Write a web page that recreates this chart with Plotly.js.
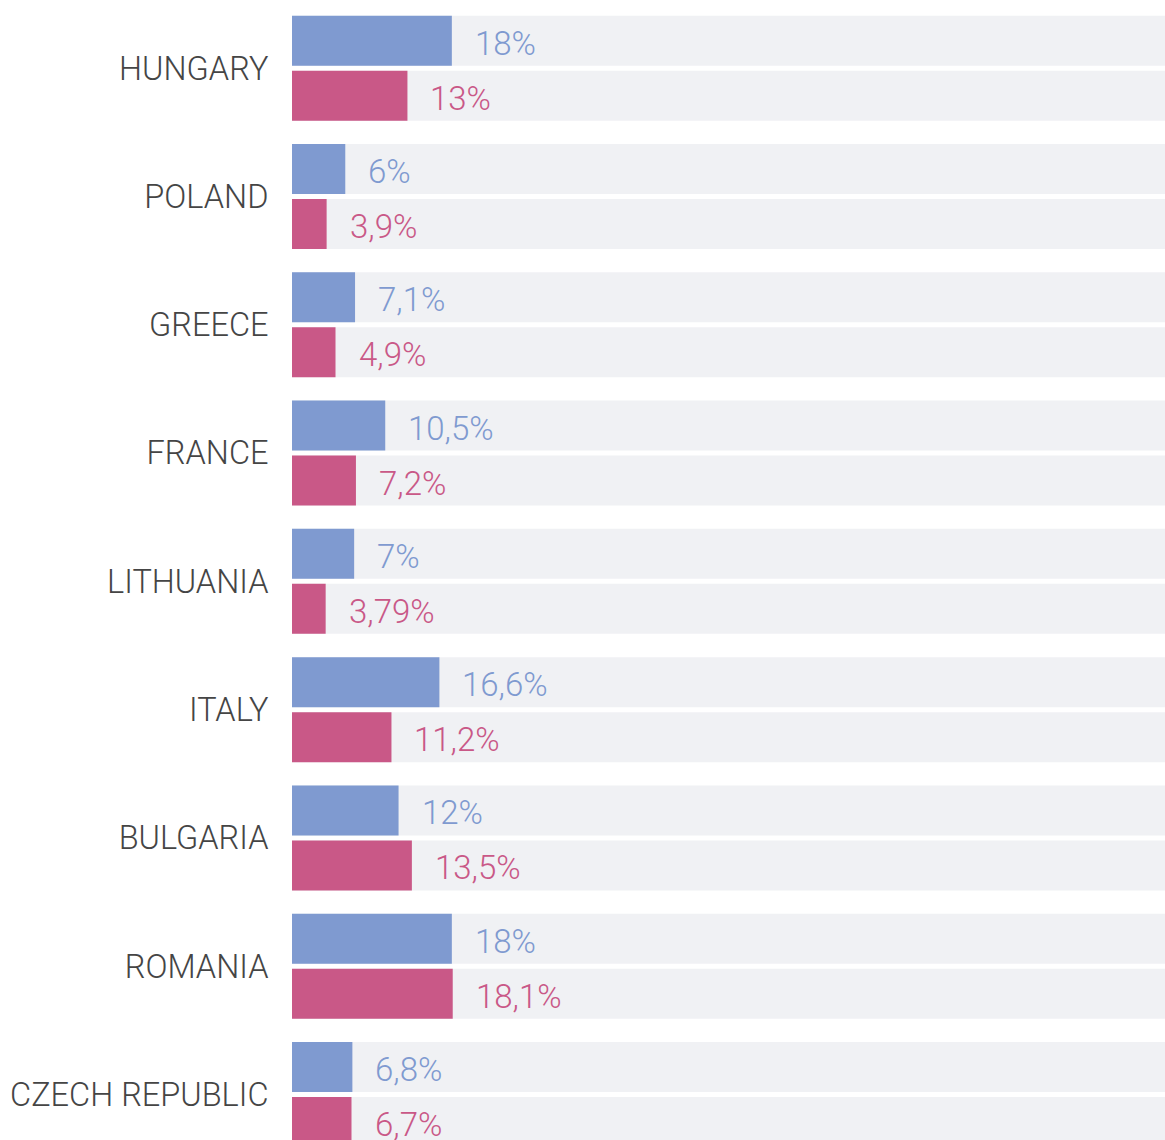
<!DOCTYPE html>
<html>
<head>
<meta charset="utf-8">
<script src="https://cdn.plot.ly/plotly-3.0.1.min.js"></script>
<style>
html,body{margin:0;padding:0;background:#fff;}
#chart{width:1165px;height:1140px;}
</style>
</head>
<body>
<div id="chart"></div>
<script>
const countries = ["HUNGARY","POLAND","GREECE","FRANCE","LITHUANIA","ITALY","BULGARIA","ROMANIA","CZECH REPUBLIC"];
const seriesA = [18, 6, 7.1, 10.5, 7, 16.6, 12, 18, 6.8];
const seriesB = [13, 3.9, 4.9, 7.2, 3.79, 11.2, 13.5, 18.1, 6.7];
const trackMax = 100;

const blue = "#7f9ad0";
const pink = "#c95887";
const track = "#f0f1f4";
const FONT = "Roboto, 'Open Sans', sans-serif";

const pitch = 128.3;      // px per category
const topMargin = 4;
const H = 1140, W = 1165, L = 292;
const barW = 50 / pitch;
const gap = 2.5 / pitch;

function fmt(v){ return String(v).replace('.', ',') + '%'; }

const common = {type:'bar', orientation:'h', y: countries, width: barW, hoverinfo:'skip'};
const traces = [
  Object.assign({}, common, {x: countries.map(()=>trackMax), offset: -barW-gap, marker:{color:track}}),
  Object.assign({}, common, {x: countries.map(()=>trackMax), offset: gap, marker:{color:track}}),
  Object.assign({}, common, {x: seriesA, offset: -barW-gap, marker:{color:blue}}),
  Object.assign({}, common, {x: seriesB, offset: gap, marker:{color:pink}})
];

const annotations = [];
countries.forEach((c,i)=>{
  annotations.push({x: seriesA[i], y: c, xref:'x', yref:'y', text: fmt(seriesA[i]), showarrow:false,
    xanchor:'left', yanchor:'middle', xshift: 21, yshift: 25,
    font:{family:FONT, size:33, color:blue, weight:300}});
  annotations.push({x: seriesB[i], y: c, xref:'x', yref:'y', text: fmt(seriesB[i]), showarrow:false,
    xanchor:'left', yanchor:'middle', xshift: 21, yshift: -30,
    font:{family:FONT, size:33, color:pink, weight:300}});
});

const plotH = H - topMargin;
const yMax = -0.5 + plotH / pitch;

const layout = {
  width: W, height: H,
  margin: {l: L, r: 0, t: topMargin, b: 0, pad: 0},
  paper_bgcolor: '#fff', plot_bgcolor: '#fff',
  showlegend: false,
  barmode: 'overlay',
  xaxis: {range: [0, (W - L) / 8.88], visible: false, fixedrange: true},
  yaxis: {type:'category', range: [yMax, -0.5], showgrid:false, zeroline:false, showline:false,
    ticks:'outside', ticklen: 16, tickcolor:'rgba(0,0,0,0)',
    tickfont:{family:FONT, size:32.5, color:'#454545', weight:300}, fixedrange:true},
  annotations: annotations
};

Plotly.newPlot('chart', traces, layout, {displayModeBar:false, staticPlot:true});
</script>
</body>
</html>
